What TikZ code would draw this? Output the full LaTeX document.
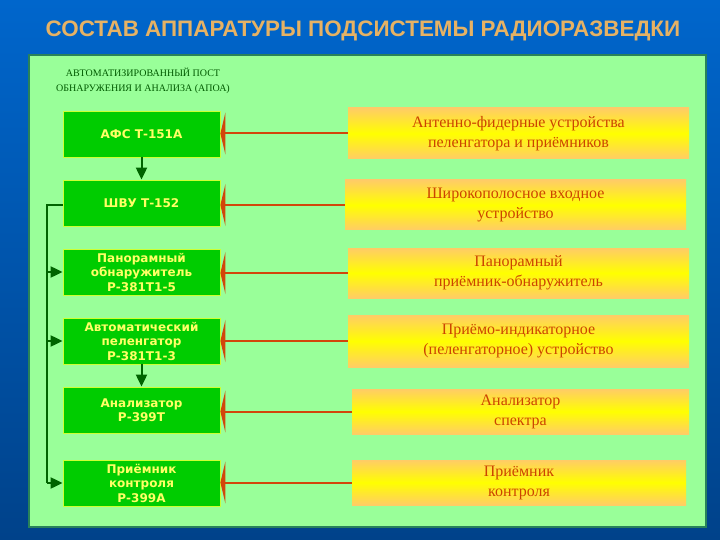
\documentclass[tikz,border=0pt]{standalone}
\usepackage{fontspec}
\setmainfont{Liberation Serif}
\newfontfamily\sansb{DejaVu Sans}
\newfontfamily\titlef{Liberation Sans}
\usetikzlibrary{arrows.meta}
\definecolor{bgtop}{RGB}{0,102,204}
\definecolor{bgbot}{RGB}{0,66,138}
\definecolor{panel}{RGB}{153,255,153}
\definecolor{panelborder}{RGB}{40,130,90}
\definecolor{boxgreen}{RGB}{0,204,0}
\definecolor{boxedge}{RGB}{204,255,51}
\definecolor{boxtext}{RGB}{255,255,102}
\definecolor{orng}{RGB}{255,204,102}
\definecolor{yel}{RGB}{255,255,0}
\definecolor{redtext}{RGB}{204,68,0}
\definecolor{redline}{RGB}{210,70,10}
\definecolor{dkgreen}{RGB}{0,100,0}
\definecolor{titlecol}{RGB}{230,178,100}
\definecolor{subcol}{RGB}{0,90,0}
\tikzset{
  lbox/.style={draw=boxedge, line width=0.8pt, fill=boxgreen, minimum width=157pt, minimum height=46pt,
    inner sep=0pt, align=center, text=boxtext, font=\sansb\bfseries\fontsize{12}{14.5}\selectfont},
  rbox/.style={top color=orng, bottom color=orng, middle color=yel, draw=none, inner sep=0pt, align=center,
    text=redtext, font=\fontsize{16}{20}\selectfont},
  redconn/.style={draw=redline, line width=2pt, -{Triangle[length=5pt,width=42pt,fill=redline]}},
  grconn/.style={draw=dkgreen, line width=2pt, -{Triangle[length=12pt,width=11pt]}},
  bus/.style={draw=dkgreen, line width=2pt},
}
\begin{document}
\begin{tikzpicture}[x=1pt,y=-1pt]
\shade[top color=bgtop, bottom color=bgbot] (0,0) rectangle (720,540);
\useasboundingbox (0,0) rectangle (720,540);
\node[font=\titlef\bfseries\fontsize{22.4}{26}\selectfont, text=titlecol] (title) at (363,31) {СОСТАВ АППАРАТУРЫ ПОДСИСТЕМЫ РАДИОРАЗВЕДКИ};
\draw[fill=panel, draw=panelborder, line width=1.2pt] (29,55) rectangle (706,527);
\node[font=\fontsize{10}{15}\selectfont, text=subcol, align=center] (sub) at (143,81) {АВТОМАТИЗИРОВАННЫЙ ПОСТ\\ОБНАРУЖЕНИЯ И АНАЛИЗА (АПОА)};

\node[lbox] (l1) at (141.5,134) {АФС Т-151А};
\node[lbox] (l2) at (141.5,203) {ШВУ Т-152};
\node[lbox] (l3) at (141.5,272) {Панорамный\\обнаружитель\\Р-381Т1-5};
\node[lbox] (l4) at (141.5,341) {Автоматический\\пеленгатор\\Р-381Т1-3};
\node[lbox] (l5) at (141.5,410) {Анализатор\\Р-399Т};
\node[lbox] (l6) at (141.5,483) {Приёмник\\контроля\\Р-399А};

\node[rbox, minimum width=341pt, minimum height=51pt] (r1) at (518.5,133.5) {Антенно-фидерные устройства\\пеленгатора и приёмников};
\node[rbox, minimum width=341pt, minimum height=50pt] (r2) at (515.5,205) {Широкополосное входное\\устройство};
\node[rbox, minimum width=341pt, minimum height=50pt] (r3) at (518.5,273) {Панорамный\\приёмник-обнаружитель};
\node[rbox, minimum width=341pt, minimum height=52pt] (r4) at (518.5,341) {Приёмо-индикаторное\\(пеленгаторное) устройство};
\node[rbox, minimum width=337pt, minimum height=45pt] (r5) at (520.5,411.5) {Анализатор\\спектра};
\node[rbox, minimum width=334pt, minimum height=45pt] (r6) at (519,482.5) {Приёмник\\контроля};

\foreach \i in {1,...,6} {
  \draw[redconn] (r\i.west) -- (r\i.west -| l\i.east);
}

\draw[grconn] (l1.south) -- (l2.north);
\draw[grconn] (l4.south) -- (l5.north);

\coordinate (bt) at (47,205);
\coordinate (bb) at (47,483);
\draw[bus] (l2.west |- bt) -- (bt) -- (bb);
\draw[grconn] (bt |- l3.west) -- (l3.west);
\draw[grconn] (bt |- l4.west) -- (l4.west);
\draw[grconn] (bb) -- (l6.west);
\end{tikzpicture}
\end{document}
